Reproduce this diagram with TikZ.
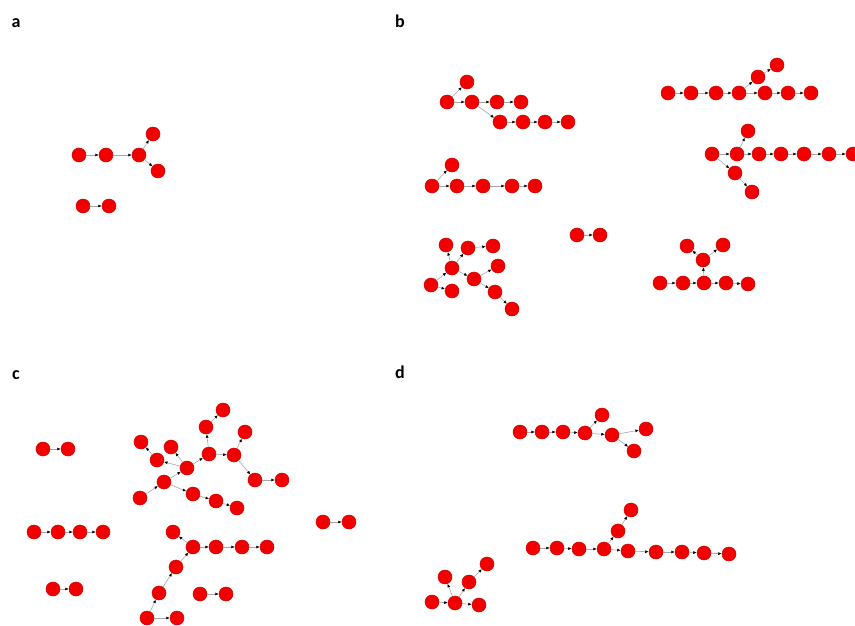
\documentclass[tikz,border=0pt]{standalone}
\usepackage{fontspec}
\setsansfont{Carlito}
\usetikzlibrary{arrows.meta}

\begin{document}
\begin{tikzpicture}[x=1pt, y=-1pt,
    vtx/.style={circle, fill=red!95!black, draw=red!80!black, line width=0.5pt, minimum size=14pt, inner sep=0pt},
    edge/.style={draw=gray!70, line width=0.6pt, -{Latex[length=3.5pt,width=3pt,color=black]}},
    tag/.style={font=\sffamily\bfseries\fontsize{18}{18}\selectfont, anchor=base}]
    		\useasboundingbox (0,0) rectangle (855,626);

    		% Panel labels
    		\node[tag] (la) at (16,28) {a};
    		\node[tag] (lb) at (400,28) {b};
    		\node[tag] (lc) at (16,379) {c};
    		\node[tag] (ld) at (400,378) {d};

    		% Panel a
    		\node[vtx] (a1) at (79,155) {};
    		\node[vtx] (a2) at (106,155) {};
    		\node[vtx] (a3) at (139,155) {};
    		\node[vtx] (a4) at (153,134) {};
    		\node[vtx] (a5) at (158,171) {};
    		\node[vtx] (a6) at (83,206) {};
    		\node[vtx] (a7) at (109,206) {};
    		\foreach \s/\t in {a1/a2, a2/a3, a3/a4, a3/a5, a6/a7}
    			\draw[edge] (\s) -- (\t);

    		% Panel b, upper left
    		\node[vtx] (b1) at (447,102) {};
    		\node[vtx] (b2) at (467,82) {};
    		\node[vtx] (b3) at (472,102) {};
    		\node[vtx] (b4) at (497,102) {};
    		\node[vtx] (b5) at (521,102) {};
    		\node[vtx] (b6) at (500,122) {};
    		\node[vtx] (b7) at (523,122) {};
    		\node[vtx] (b8) at (545,122) {};
    		\node[vtx] (b9) at (568,122) {};
    		\foreach \s/\t in {b1/b2, b1/b3, b3/b4, b4/b5, b3/b6, b6/b7, b7/b8, b8/b9}
    			\draw[edge] (\s) -- (\t);

    		% Panel b, middle left
    		\node[vtx] (b10) at (432,186) {};
    		\node[vtx] (b11) at (452,165) {};
    		\node[vtx] (b12) at (457,186) {};
    		\node[vtx] (b13) at (483,186) {};
    		\node[vtx] (b14) at (512,186) {};
    		\node[vtx] (b15) at (535,186) {};
    		\foreach \s/\t in {b10/b11, b10/b12, b12/b13, b13/b14, b14/b15}
    			\draw[edge] (\s) -- (\t);

    		% Panel b, upper right
    		\node[vtx] (b16) at (668,93) {};
    		\node[vtx] (b17) at (691,93) {};
    		\node[vtx] (b18) at (716,93) {};
    		\node[vtx] (b19) at (739,93) {};
    		\node[vtx] (b20) at (758,77) {};
    		\node[vtx] (b21) at (777,65) {};
    		\node[vtx] (b22) at (765,93) {};
    		\node[vtx] (b23) at (788,93) {};
    		\node[vtx] (b24) at (811,93) {};
    		\foreach \s/\t in {b16/b17, b17/b18, b18/b19, b19/b20, b20/b21, b19/b22, b22/b23, b23/b24}
    			\draw[edge] (\s) -- (\t);

    		% Panel b, middle right
    		\node[vtx] (b25) at (712,154) {};
    		\node[vtx] (b26) at (737,154) {};
    		\node[vtx] (b27) at (748,131) {};
    		\node[vtx] (b28) at (759,154) {};
    		\node[vtx] (b29) at (781,154) {};
    		\node[vtx] (b30) at (804,154) {};
    		\node[vtx] (b31) at (829,154) {};
    		\node[vtx] (b32) at (853,154) {};
    		\node[vtx] (b33) at (735,173) {};
    		\node[vtx] (b34) at (752,192) {};
    		\foreach \s/\t in {b25/b26, b26/b27, b26/b28, b28/b29, b29/b30, b30/b31, b31/b32, b25/b33, b33/b34}
    			\draw[edge] (\s) -- (\t);

    		% Panel b, lower left
    		\node[vtx] (b35) at (446,245) {};
    		\node[vtx] (b36) at (468,248) {};
    		\node[vtx] (b37) at (493,246) {};
    		\node[vtx] (b38) at (452,268) {};
    		\node[vtx] (b39) at (498,266) {};
    		\node[vtx] (b40) at (474,279) {};
    		\node[vtx] (b41) at (431,285) {};
    		\node[vtx] (b42) at (452,291) {};
    		\node[vtx] (b43) at (495,292) {};
    		\node[vtx] (b44) at (512,309) {};
    		\foreach \s/\t in {b38/b35, b38/b36, b36/b37, b41/b38, b41/b42, b38/b40, b40/b39, b40/b43, b43/b44}
    			\draw[edge] (\s) -- (\t);

    		% Panel b, pair and lower right
    		\node[vtx] (b45) at (577,235) {};
    		\node[vtx] (b46) at (600,235) {};
    		\node[vtx] (b47) at (687,246) {};
    		\node[vtx] (b48) at (723,245) {};
    		\node[vtx] (b49) at (703,260) {};
    		\node[vtx] (b50) at (660,283) {};
    		\node[vtx] (b51) at (683,283) {};
    		\node[vtx] (b52) at (704,283) {};
    		\node[vtx] (b53) at (726,283) {};
    		\node[vtx] (b54) at (748,284) {};
    		\foreach \s/\t in {b45/b46, b49/b47, b49/b48, b52/b49, b50/b51, b51/b52, b52/b53, b53/b54}
    			\draw[edge] (\s) -- (\t);

    		% Panel c, left column
    		\node[vtx] (c1) at (43,449) {};
    		\node[vtx] (c2) at (68,449) {};
    		\node[vtx] (c3) at (34,532) {};
    		\node[vtx] (c4) at (58,532) {};
    		\node[vtx] (c5) at (80,532) {};
    		\node[vtx] (c6) at (103,532) {};
    		\node[vtx] (c7) at (53,589) {};
    		\node[vtx] (c8) at (76,589) {};
    		\foreach \s/\t in {c1/c2, c3/c4, c4/c5, c5/c6, c7/c8}
    			\draw[edge] (\s) -- (\t);

    		% Panel c, big tree
    		\node[vtx] (c9) at (223,410) {};
    		\node[vtx] (c10) at (206,427) {};
    		\node[vtx] (c11) at (245,432) {};
    		\node[vtx] (c12) at (141,442) {};
    		\node[vtx] (c13) at (171,447) {};
    		\node[vtx] (c14) at (209,454) {};
    		\node[vtx] (c15) at (234,455) {};
    		\node[vtx] (c16) at (157,460) {};
    		\node[vtx] (c17) at (187,468) {};
    		\node[vtx] (c18) at (164,482) {};
    		\node[vtx] (c19) at (255,480) {};
    		\node[vtx] (c20) at (282,480) {};
    		\node[vtx] (c21) at (140,498) {};
    		\node[vtx] (c22) at (193,494) {};
    		\node[vtx] (c23) at (216,501) {};
    		\node[vtx] (c24) at (237,508) {};
    		\foreach \s/\t in {c14/c10, c10/c9, c15/c11, c14/c15, c17/c14, c16/c12, c17/c16, c17/c13,
    			c18/c17, c21/c18, c18/c22, c22/c23, c23/c24, c15/c19, c19/c20}
    			\draw[edge] (\s) -- (\t);

    		% Panel c, lower tree and pairs
    		\node[vtx] (c25) at (323,522) {};
    		\node[vtx] (c26) at (349,522) {};
    		\node[vtx] (c27) at (173,532) {};
    		\node[vtx] (c28) at (193,547) {};
    		\node[vtx] (c29) at (216,547) {};
    		\node[vtx] (c30) at (242,547) {};
    		\node[vtx] (c31) at (267,547) {};
    		\node[vtx] (c32) at (176,567) {};
    		\node[vtx] (c33) at (159,593) {};
    		\node[vtx] (c34) at (147,618) {};
    		\node[vtx] (c35) at (177,618) {};
    		\node[vtx] (c36) at (200,594) {};
    		\node[vtx] (c37) at (226,594) {};
    		\foreach \s/\t in {c25/c26, c28/c27, c28/c29, c29/c30, c30/c31, c32/c28, c33/c32, c34/c33, c34/c35, c36/c37}
    			\draw[edge] (\s) -- (\t);

    		% Panel d, upper
    		\node[vtx] (d1) at (520,432) {};
    		\node[vtx] (d2) at (542,432) {};
    		\node[vtx] (d3) at (563,432) {};
    		\node[vtx] (d4) at (585,433) {};
    		\node[vtx] (d5) at (602,415) {};
    		\node[vtx] (d6) at (612,435) {};
    		\node[vtx] (d7) at (646,429) {};
    		\node[vtx] (d8) at (634,451) {};
    		\foreach \s/\t in {d1/d2, d2/d3, d3/d4, d4/d5, d4/d6, d6/d7, d6/d8}
    			\draw[edge] (\s) -- (\t);

    		% Panel d, long chain
    		\node[vtx] (d9) at (533,548) {};
    		\node[vtx] (d10) at (557,548) {};
    		\node[vtx] (d11) at (579,549) {};
    		\node[vtx] (d12) at (604,549) {};
    		\node[vtx] (d13) at (618,531) {};
    		\node[vtx] (d14) at (631,510) {};
    		\node[vtx] (d15) at (628,551) {};
    		\node[vtx] (d16) at (656,552) {};
    		\node[vtx] (d17) at (682,552) {};
    		\node[vtx] (d18) at (704,553) {};
    		\node[vtx] (d19) at (729,554) {};
    		\foreach \s/\t in {d9/d10, d10/d11, d11/d12, d12/d13, d13/d14, d12/d15, d15/d16, d16/d17, d17/d18, d18/d19}
    			\draw[edge] (\s) -- (\t);

    		% Panel d, lower left
    		\node[vtx] (d20) at (432,602) {};
    		\node[vtx] (d21) at (455,603) {};
    		\node[vtx] (d22) at (445,577) {};
    		\node[vtx] (d23) at (469,582) {};
    		\node[vtx] (d24) at (487,564) {};
    		\node[vtx] (d25) at (479,605) {};
    		\foreach \s/\t in {d20/d21, d21/d22, d21/d23, d23/d24, d21/d25}
    			\draw[edge] (\s) -- (\t);
    	\end{tikzpicture}
\end{document}
